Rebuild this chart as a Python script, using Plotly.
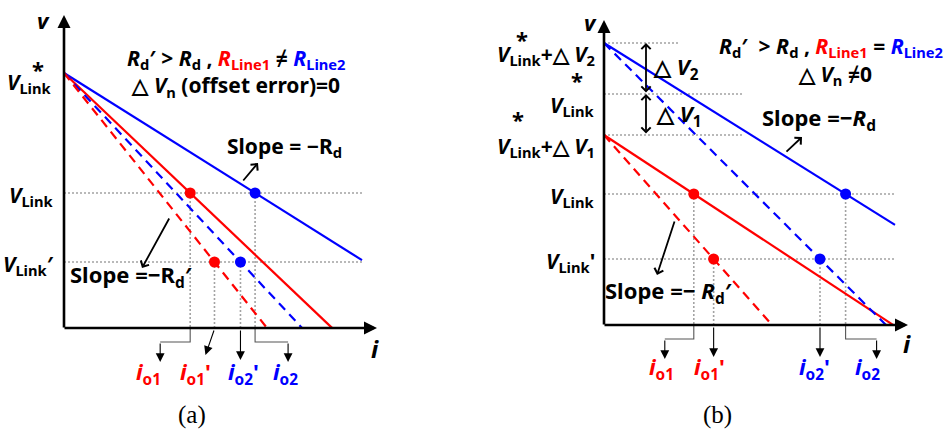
import plotly.graph_objects as go

W, H = 945, 429
PX = 10.0  # pixels per data unit (both directions, both panels)

RED = "#ff0000"
BLUE = "#0000ff"
DOT_GRAY = "#a3a3a3"
LEAD_GRAY = "#555555"
FONT = "Noto Sans"

# ---------------- panel (a): no offset error, different line resistance ----------------
a_line_color = [BLUE, RED, BLUE, RED]
a_line_dash = ["solid", "solid", "dash", "dash"]
a_line_v0 = [25.5, 25.5, 25.5, 25.5]          # V*_Link for every converter
a_line_slope = [0.628, 0.951, 1.071, 1.256]   # droop + line resistance
a_line_iend = [29.8, 26.8, 23.8, 20.3]

a_level_v = [13.5, 6.6]                       # V_Link, V_Link'
a_level_iend = [29.8, 29.8]
a_level_text = ["<b><i>V</i><sub>Link</sub></b>", "<b><i>V</i><sub>Link</sub>′</b>"]

# operating points: line index, level index, colour, current label
a_pt_line = [1, 3, 2, 0]
a_pt_level = [0, 1, 1, 0]
a_pt_color = [RED, RED, BLUE, BLUE]
a_pt_text = ["<b><i>i</i><sub>o1</sub></b>", "<b><i>i</i><sub>o1</sub>'</b>",
             "<b><i>i</i><sub>o2</sub>'</b>", "<b><i>i</i><sub>o2</sub></b>"]
a_pt_lead = ["left", "slant", "down", "right"]

# ---------------- panel (b): offset error, equal line resistance ----------------
b_line_color = [BLUE, RED, BLUE, RED]
b_line_dash = ["solid", "solid", "dash", "dash"]
b_line_v0 = [28.2, 19.0, 28.2, 19.0]          # V*+dV2, V*+dV1
b_line_slope = [0.625, 0.657, 1.0, 1.131]
b_line_iend = [29.1, 28.9, 28.2, 16.8]

b_level_v = [28.2, 23.1, 19.0, 13.1, 6.6]
b_level_iend = [7.4, 13.8, 13.8, 29.1, 29.1]
b_level_text = ["<b><i>V</i><sub>Link</sub>+△ <i>V</i><sub>2</sub></b>",
                "<b><i>V</i><sub>Link</sub></b>",
                "<b><i>V</i><sub>Link</sub>+△ <i>V</i><sub>1</sub></b>",
                "<b><i>V</i><sub>Link</sub></b>",
                "<b><i>V</i><sub>Link</sub>'</b>"]
b_level_star = [True, True, True, False, False]

b_pt_line = [1, 3, 2, 0]
b_pt_level = [3, 4, 4, 3]
b_pt_color = [RED, RED, BLUE, BLUE]
b_pt_text = a_pt_text
b_pt_lead = ["left", "down", "down", "right"]

fig = go.Figure()
ann = []


def add_line(xa, ya, xs, ys, color, width, dash="solid"):
    fig.add_trace(go.Scatter(x=xs, y=ys, mode="lines", xaxis=xa, yaxis=ya,
                             line=dict(color=color, width=width, dash=dash),
                             hoverinfo="skip", showlegend=False))


def arrow(xa, ya, x0, y0, x1, y1, head=2, size=1.0, width=1.0, color="black", both=False):
    a = dict(x=x1, y=y1, ax=x0, ay=y0, xref=xa, yref=ya, axref=xa, ayref=ya,
             text="", showarrow=True, arrowhead=head, arrowsize=size,
             arrowwidth=width, arrowcolor=color)
    if both:
        a.update(arrowside="end+start", startarrowhead=head, startarrowsize=size)
    ann.append(a)


def text(xa, ya, x, y, s, size=19, xanchor="center", color="black", family=FONT, yshift=0):
    ann.append(dict(x=x, y=y, xref=xa, yref=ya, text=s, showarrow=False,
                    xanchor=xanchor, yanchor="middle", yshift=yshift, align="center",
                    font=dict(family=family, size=size, color=color)))


def panel(xa, ya, v0s, slopes, iends, colors, dashes, levels, level_iend,
          pt_line, pt_level, pt_color, pt_text, pt_lead, lead_dx, lab_dx, lab_y, x_tip, y_tip):
    # operating-point currents
    pts_i = [(v0s[k] - levels[l]) / slopes[k] for k, l in zip(pt_line, pt_level)]
    pts_v = [levels[l] for l in pt_level]
    # dotted guide lines
    for v, ie in zip(levels, level_iend):
        add_line(xa, ya, [0, ie], [v, v], DOT_GRAY, 1.6, "2px,2px")
    for pi, pv in zip(pts_i, pts_v):
        add_line(xa, ya, [pi, pi], [pv, 0], DOT_GRAY, 1.6, "2px,2px")
    # characteristic lines
    for v0, s, ie, c, d in zip(v0s, slopes, iends, colors, dashes):
        ie = min(ie, v0 / s)
        add_line(xa, ya, [0, ie], [v0, v0 - s * ie], c, 2.2, "solid" if d == "solid" else "9px,6px")
    # operating points
    fig.add_trace(go.Scatter(x=pts_i, y=pts_v, mode="markers", xaxis=xa, yaxis=ya,
                             marker=dict(size=11, color=pt_color), hoverinfo="skip",
                             showlegend=False))
    # axes with arrowheads
    arrow(xa, ya, 0, -0.1, 0, y_tip, head=2, size=1.0, width=2.6)
    arrow(xa, ya, -0.1, 0, x_tip, 0, head=2, size=1.0, width=2.6)
    # leaders from each operating point to its current label
    for pi, kind, dx, lt, c, ldx in zip(pts_i, pt_lead, lead_dx, pt_text, pt_color, lab_dx):
        if kind in ("left", "right"):
            add_line(xa, ya, [pi, pi, pi + dx], [0, -1.4, -1.4], LEAD_GRAY, 1.1)
            arrow(xa, ya, pi + dx, -1.4, pi + dx, -3.4, head=2, size=1.6, width=1.1, color="black")
            xl = pi + dx
        elif kind == "slant":
            arrow(xa, ya, pi, -0.1, pi + dx, -2.7, head=2, size=1.6, width=1.1, color="black")
            xl = pi + dx
        else:
            arrow(xa, ya, pi, -0.1, pi, -3.2, head=2, size=1.6, width=1.1, color="black")
            xl = pi
        text(xa, ya, xl + ldx, lab_y, lt, size=22, color=c)
    return pts_i


# ---------- draw panel (a) ----------
panel("x", "y", a_line_v0, a_line_slope, a_line_iend, a_line_color, a_line_dash,
      a_level_v, a_level_iend, a_pt_line, a_pt_level, a_pt_color, a_pt_text, a_pt_lead,
      lead_dx=[-3.0, -0.9, 0, 3.3], lab_dx=[-1.2, -1.0, 0.3, -0.3], lab_y=-4.5,
      x_tip=31.3, y_tip=31.3)

text("x", "y", -1.0, a_line_v0[0], "<b><i>V</i><sub>Link</sub></b>", size=21, xanchor="right", yshift=-10)
text("x", "y", -2.6, 25.9, "<b>*</b>", size=22)
for v, s in zip(a_level_v, a_level_text):
    text("x", "y", -0.8, v, s, size=21, xanchor="right", yshift=-3)
text("x", "y", -2.1, 30.8, "<b><i>v</i></b>", size=22)
text("x", "y", 31.1, -2.0, "<b><i>i</i></b>", size=24)

RD_A = ("<b><i>R</i><sub>d</sub>′ > <i>R</i><sub>d</sub> , "
        f"<span style='color:{RED}'><i>R</i><sub>Line1</sub></span> ≠ "
        f"<span style='color:{BLUE}'><i>R</i><sub>Line2</sub></span><br>"
        "△ <i>V</i><sub>n</sub> (offset error)=0</b>")
text("x", "y", 17.2, 25.5, RD_A, size=21)
text("x", "y", 16.1, 18.1, "<b>Slope = −R<sub>d</sub></b>", size=21, xanchor="left")
arrow("x", "y", 17.8, 14.6, 19.4, 16.5, head=4, size=1.0, width=1.8)
text("x", "y", 0.4, 5.2, "<b>Slope =−R<sub>d</sub>′</b>", size=22, xanchor="left")
arrow("x", "y", 10.6, 11.1, 7.8, 6.0, head=4, size=1.0, width=1.8)
text("x", "y", 12.8, -8.7, "(a)", size=25, family="Liberation Serif")

# ---------- draw panel (b) ----------
panel("x2", "y2", b_line_v0, b_line_slope, b_line_iend, b_line_color, b_line_dash,
      b_level_v, b_level_iend, b_pt_line, b_pt_level, b_pt_color, b_pt_text, b_pt_lead,
      lead_dx=[-2.9, 0, 0, 3.1], lab_dx=[-0.3, -0.4, -0.6, -0.9], lab_y=-4.3,
      x_tip=30.4, y_tip=30.5)

for v, s, star in zip(b_level_v, b_level_text, b_level_star):
    text("x2", "y2", -0.7, v, s, size=21, xanchor="right", yshift=-12 if star else -3)
text("x2", "y2", -8.2, 28.6, "<b>*</b>", size=22)
text("x2", "y2", -2.7, 24.5, "<b>*</b>", size=22)
text("x2", "y2", -8.6, 20.6, "<b>*</b>", size=22)
text("x2", "y2", -1.4, 30.3, "<b><i>v</i></b>", size=22)
text("x2", "y2", 30.3, -1.8, "<b><i>i</i></b>", size=24)

# offset-error brackets
arrow("x2", "y2", 4.2, b_level_v[1], 4.2, b_level_v[0], head=4, size=1.0, width=1.8, both=True)
arrow("x2", "y2", 4.2, b_level_v[2], 4.2, b_level_v[1], head=4, size=1.0, width=1.8, both=True)
text("x2", "y2", 7.2, 25.7, "<b>△ <i>V</i><sub>2</sub></b>", size=22)
text("x2", "y2", 7.5, 21.0, "<b>△ <i>V</i><sub>1</sub></b>", size=22)

RD_B = ("<b><i>R</i><sub>d</sub>′  > <i>R</i><sub>d</sub> , "
        f"<span style='color:{RED}'><i>R</i><sub>Line1</sub></span> = "
        f"<span style='color:{BLUE}'><i>R</i><sub>Line2</sub></span></b>")
text("x2", "y2", 22.7, 27.8, RD_B, size=21)
text("x2", "y2", 23.1, 25.0, "<b>△ <i>V</i><sub>n</sub> ≠0</b>", size=21)
text("x2", "y2", 15.6, 20.6, "<b>Slope =−<i>R</i><sub>d</sub></b>", size=22, xanchor="left")
arrow("x2", "y2", 18.1, 17.2, 19.8, 18.8, head=4, size=1.0, width=1.8)
text("x2", "y2", -0.1, 3.3, "<b>Slope =− <i>R</i><sub>d</sub>′</b>", size=22, xanchor="left")
arrow("x2", "y2", 7.1, 10.5, 5.3, 5.0, head=4, size=1.0, width=1.8)
text("x2", "y2", 11.3, -9.0, "(b)", size=25, family="Liberation Serif")

# axis placement: origin of each panel in pixels
A_ORIGIN = (64, 328)
B_ORIGIN = (604, 325)


def xr(x0_px, dom_px0, dom_px1):
    return [(dom_px0 - x0_px) / PX, (dom_px1 - x0_px) / PX]


def yr(y0_px):
    return [-(H - y0_px) / PX, y0_px / PX]


hidden = dict(visible=False, showgrid=False, zeroline=False, fixedrange=True)
fig.update_layout(
    width=W, height=H, margin=dict(l=0, r=0, t=0, b=0),
    paper_bgcolor="white", plot_bgcolor="white", showlegend=False,
    xaxis=dict(domain=[0, 0.5], range=xr(A_ORIGIN[0], 0, W / 2), anchor="y", **hidden),
    yaxis=dict(domain=[0, 1], range=yr(A_ORIGIN[1]), anchor="x", **hidden),
    xaxis2=dict(domain=[0.5, 1], range=xr(B_ORIGIN[0], W / 2, W), anchor="y2", **hidden),
    yaxis2=dict(domain=[0, 1], range=yr(B_ORIGIN[1]), anchor="x2", **hidden),
    annotations=ann,
)

fig.write_html("out.html")
